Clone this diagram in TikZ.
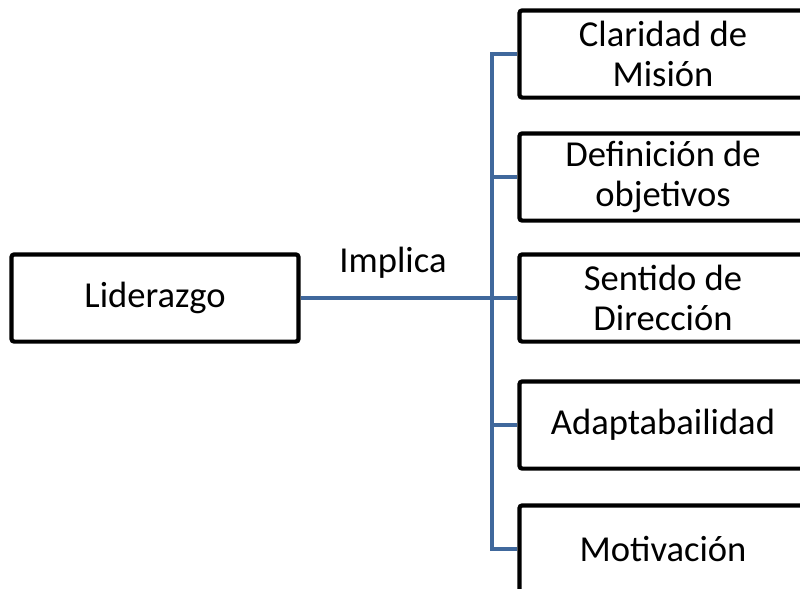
\documentclass[tikz,border=0pt]{standalone}
\usepackage{fontspec}
\setmainfont{Carlito}
\definecolor{linkblue}{RGB}{64,104,156}

\begin{document}
\begin{tikzpicture}[
  x=0.025cm, y=-0.025cm,
  font=\fontsize{26}{28}\selectfont,
  box/.style={draw, line width=3pt, rounded corners=2pt, fill=white,
              minimum width=7.175cm, minimum height=2.18cm, inner sep=0pt, align=center},
  conn/.style={draw=linkblue, line width=3pt},
]
  \useasboundingbox (0,0) rectangle (800,588);

  % ===================== LEFT: root =====================
  \node[box] (lid) at (155,298) {Liderazgo};
  \node (impl) at (393,263) {Implica};

  % ===================== RIGHT: branches =====================
  \node[box] (b1) at (663,54)  {Claridad de\\Misión};
  \node[box] (b2) at (663,177) {Definición de\\objetivos};
  \node[box] (b3) at (663,298) {Sentido de\\Dirección};
  \node[box] (b4) at (663,425) {Adaptabailidad};
  \node[box] (b5) at (663,549) {Motivación};

  \coordinate (j) at (492,298);
  \draw[conn] (lid.east) -- (j);
  \draw[conn] (b1.west) -| (j) |- (b5.west);
  \foreach \b in {b2,b3,b4}
    \draw[conn] (\b.west) -- (\b.west -| j);
\end{tikzpicture}
\end{document}
